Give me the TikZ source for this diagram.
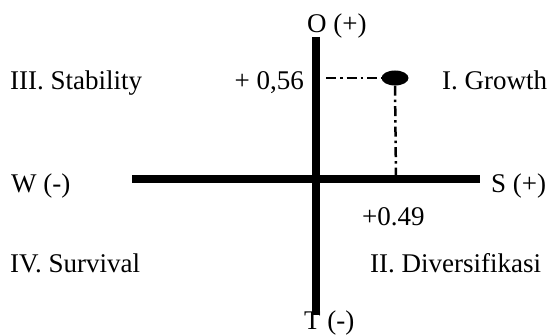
\documentclass[tikz,border=0pt]{standalone}
\usepackage{fontspec}
\setmainfont{Liberation Serif}
\usetikzlibrary{shapes.geometric}
\begin{document}
\begin{tikzpicture}[x=1pt,y=1pt,
  lbl/.style={inner sep=0pt,font=\fontsize{27}{31}\selectfont},
  axis/.style={line width=7.5pt},
  guide/.style={line width=2.5pt,dash pattern=on 10pt off 4pt on 2.5pt off 4pt}]
\useasboundingbox (0,0) rectangle (549,335);
% axes
\coordinate (top) at (316,298);
\coordinate (bot) at (316,20);
\coordinate (left) at (132,156);
\coordinate (right) at (480,156);
\draw[axis] (top) -- (bot);
\draw[axis] (left) -- (right);
% point
\node[ellipse,fill=black,minimum width=27pt,minimum height=15pt,inner sep=0pt] (pt) at (395,257) {};
\coordinate (oy) at (326,257);
\coordinate (sx) at (396,156);
\draw[guide] (oy) -- (pt.west);
\draw[guide] (pt.south) -- (sx);
% labels
\node[lbl,anchor=base west] (O) at (307,302) {O (+)};
\node[lbl,anchor=base west] (T) at (304,6) {T (-)};
\node[lbl,anchor=base west] (W) at (11,142) {W (-)};
\node[lbl,anchor=base west] (S) at (491,142) {S (+)};
\node[lbl,anchor=base west] (q3) at (10,245) {III. Stability};
\node[lbl,anchor=base east] (v56) at (304,245) {+ 0,56};
\node[lbl,anchor=base west] (q1) at (442,245) {I. Growth};
\node[lbl,anchor=base west] (v49) at (362,110) {+0.49};
\node[lbl,anchor=base west] (q4) at (10,63) {IV. Survival};
\node[lbl,anchor=base west] (q2) at (370,63) {II. Diversifikasi};
\end{tikzpicture}
\end{document}
